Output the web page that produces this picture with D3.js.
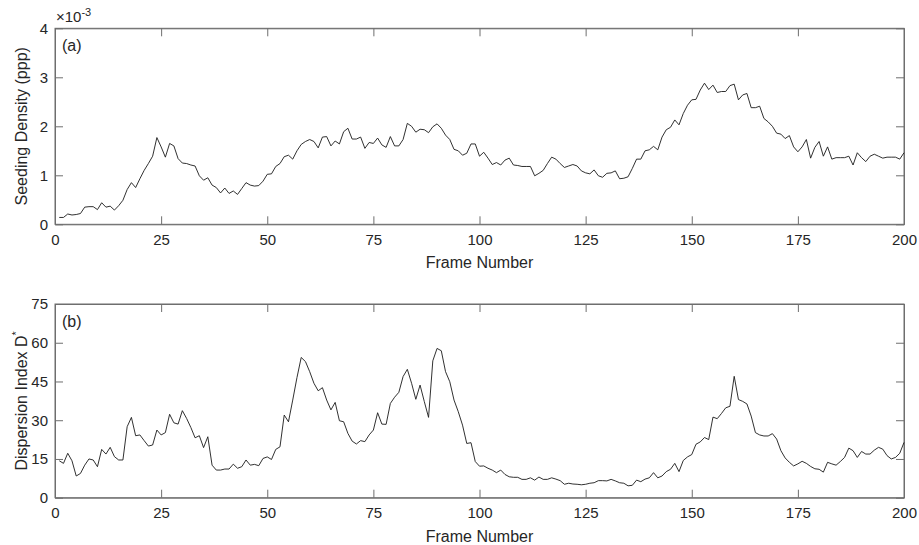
<!DOCTYPE html>
<html><head><meta charset="utf-8">
<script src="https://cdn.jsdelivr.net/npm/d3@7"></script>
<style>
html,body{margin:0;padding:0;background:#fff;}
text{font-family:"Liberation Sans",Arial,Helvetica,sans-serif;fill:#262626;}
</style></head>
<body><svg id="chart" width="919" height="545"></svg>
<script>
const frames = d3.range(1, 201);
const xTicks = [0, 25, 50, 75, 100, 125, 150, 175, 200];
const yTicksA = [0, 1, 2, 3, 4];
const yTicksB = [0, 15, 30, 45, 60, 75];
// Seeding density (x 10^-3 ppp), frames 1..200
const seeding = [
0.14,0.14,0.21,0.19,0.2,0.22,0.35,0.36,0.36,0.3,
0.44,0.35,0.37,0.29,0.38,0.49,0.71,0.85,0.75,0.93,
1.1,1.24,1.39,1.77,1.58,1.37,1.65,1.6,1.34,1.25,
1.24,1.21,1.19,0.99,0.9,0.95,0.8,0.75,0.64,0.74,
0.63,0.68,0.61,0.73,0.85,0.8,0.78,0.79,0.88,1.02,
1.03,1.18,1.24,1.38,1.41,1.33,1.5,1.63,1.69,1.73,
1.69,1.56,1.78,1.79,1.6,1.7,1.64,1.89,1.96,1.74,
1.74,1.78,1.55,1.67,1.65,1.76,1.62,1.57,1.79,1.6,
1.6,1.73,2.06,2.0,1.88,1.94,1.93,1.87,1.99,2.05,
1.96,1.82,1.73,1.53,1.5,1.41,1.45,1.64,1.64,1.39,
1.47,1.35,1.22,1.26,1.21,1.31,1.35,1.21,1.2,1.18,
1.18,1.18,0.99,1.04,1.1,1.24,1.37,1.33,1.24,1.16,
1.19,1.22,1.19,1.09,1.05,1.03,1.11,0.99,0.96,1.04,
1.05,1.09,0.93,0.94,0.97,1.14,1.33,1.33,1.5,1.52,
1.59,1.52,1.78,1.93,1.98,2.13,2.03,2.26,2.43,2.54,
2.55,2.74,2.88,2.75,2.84,2.69,2.71,2.71,2.83,2.86,
2.54,2.64,2.67,2.38,2.38,2.41,2.16,2.09,2.0,1.86,
1.84,1.75,1.81,1.58,1.48,1.58,1.73,1.35,1.57,1.69,
1.39,1.58,1.33,1.36,1.36,1.36,1.39,1.21,1.46,1.36,
1.28,1.39,1.43,1.39,1.35,1.37,1.37,1.37,1.33,1.46];
// Dispersion index D*, frames 1..200
const dispersion = [
14.3,13.3,17.2,14.3,8.4,9.4,12.6,15,14.6,12,
18.7,16.9,19.5,15.9,14.6,14.6,27.5,31.1,24,24.3,
22.1,20,20.4,26.2,24.3,25.2,32.3,29,28.5,33.7,
30.7,27.2,23.2,24,19.4,23.6,12.6,10.7,10.7,11.1,
11.1,13,11.4,12,14.6,12.6,12.9,12.4,15.2,15.8,
14.8,18.7,19.7,32,29.4,37.8,46.5,54.3,52.7,48.8,
44.3,41.4,42.6,37.8,34,36.9,29.8,29.4,24.9,21.9,
20.8,22.1,21.7,24.3,26.2,32.9,28.5,28.4,36.5,38.9,
40.8,46.9,49.7,44.3,38.1,43.6,37.2,31.1,53,57.8,
56.9,48.8,44.9,37.8,33.3,28.1,21,21.3,14,12.2,
12.3,11.4,10.7,9.7,10.7,9.0,8.1,7.9,7.9,7.1,
7.1,7.7,6.8,8.0,7.1,7.1,7.7,7.2,6.6,5.2,
5.6,5.3,5.2,5.0,5.2,5.6,5.8,6.6,6.6,6.5,
7.1,6.5,5.8,5.6,4.6,4.8,6.8,6.2,7.2,7.7,
9.7,7.7,8.4,10.1,11,13.3,10.1,14.4,15.8,16.7,
20.7,21.6,23.3,22.5,31.2,30.6,32.6,34.8,35.4,47,
38,37.3,36.3,31.6,25.2,24.3,23.9,23.9,24.8,22.7,
18.2,15.4,13.7,12.3,13.1,14.1,13.3,12.1,11.2,11.0,
9.9,13.7,13.1,12.6,14.0,15.6,19.2,18.2,15.6,17.9,
16.9,16.9,18.4,19.5,18.8,16.3,15,15.6,17.2,21.4];

const svg = d3.select("#chart");
const left = 55, right = 904;
const axisColor = "#6e6e6e";
const textColor = "#262626";
const fsTick = 15, fsLabel = 16;

function panel(top, bottom, values, yMax, yTicks, tag, yLabelNode) {
  const x = d3.scaleLinear().domain([0, 200]).range([left, right]);
  const y = d3.scaleLinear().domain([0, yMax]).range([bottom, top]);
  const g = svg.append("g");
  const tl = 8;
  g.append("g").attr("transform", `translate(0,${bottom})`)
    .call(d3.axisBottom(x).tickValues(xTicks).tickSizeInner(-tl).tickSizeOuter(0).tickPadding(10).tickFormat(d3.format("d")));
  g.append("g").attr("transform", `translate(${left},0)`)
    .call(d3.axisLeft(y).tickValues(yTicks).tickSizeInner(-tl).tickSizeOuter(0).tickPadding(7).tickFormat(d3.format("d")));
  g.append("g").attr("transform", `translate(0,${top})`)
    .call(d3.axisTop(x).tickValues(xTicks).tickSizeInner(-tl).tickSizeOuter(0).tickFormat(""));
  g.append("g").attr("transform", `translate(${right},0)`)
    .call(d3.axisRight(y).tickValues(yTicks).tickSizeInner(-tl).tickSizeOuter(0).tickFormat(""));
  g.selectAll(".domain").attr("stroke", axisColor).attr("stroke-width", 1);
  g.selectAll(".tick line").attr("stroke", axisColor).attr("stroke-width", 1);
  g.selectAll(".tick text").attr("font-size", fsTick).attr("fill", textColor)
    .style("font-family", '"Liberation Sans",Arial,sans-serif');
  g.append("rect").attr("x", left).attr("y", top).attr("width", right-left).attr("height", bottom-top)
    .attr("fill", "none").attr("stroke", axisColor).attr("stroke-width", 1);
  const line = d3.line().x((d,i) => x(frames[i])).y(d => y(d));
  g.append("path").datum(values).attr("d", line).attr("fill", "none")
    .attr("stroke", "#1a1a1a").attr("stroke-width", 0.9).attr("stroke-linejoin", "round");
  g.append("text").attr("x", left + 7).attr("y", top + 23).attr("font-size", fsLabel).text(tag);
  g.append("text").attr("x", (left+right)/2).attr("y", bottom + 44).attr("text-anchor", "middle")
    .attr("font-size", fsLabel).text("Frame Number");
  const yl = g.append("text").attr("transform", `translate(27,${(top+bottom)/2}) rotate(-90)`)
    .attr("text-anchor", "middle").attr("font-size", fsLabel);
  yLabelNode(yl);
}

panel(28.3, 224.3, seeding, 4, yTicksA, "(a)", t => t.text("Seeding Density (ppp)"));
panel(304, 497.7, dispersion, 75, yTicksB, "(b)",
  t => { t.append("tspan").text("Dispersion Index D");
         t.append("tspan").attr("font-size", 11).attr("dy", -7).text("*"); });

const ex = svg.append("text").attr("x", left + 1).attr("y", 22).attr("font-size", 15);
ex.append("tspan").text("\u00d710");
ex.append("tspan").attr("font-size", 11).attr("dy", -6).text("-3");
</script></body></html>
